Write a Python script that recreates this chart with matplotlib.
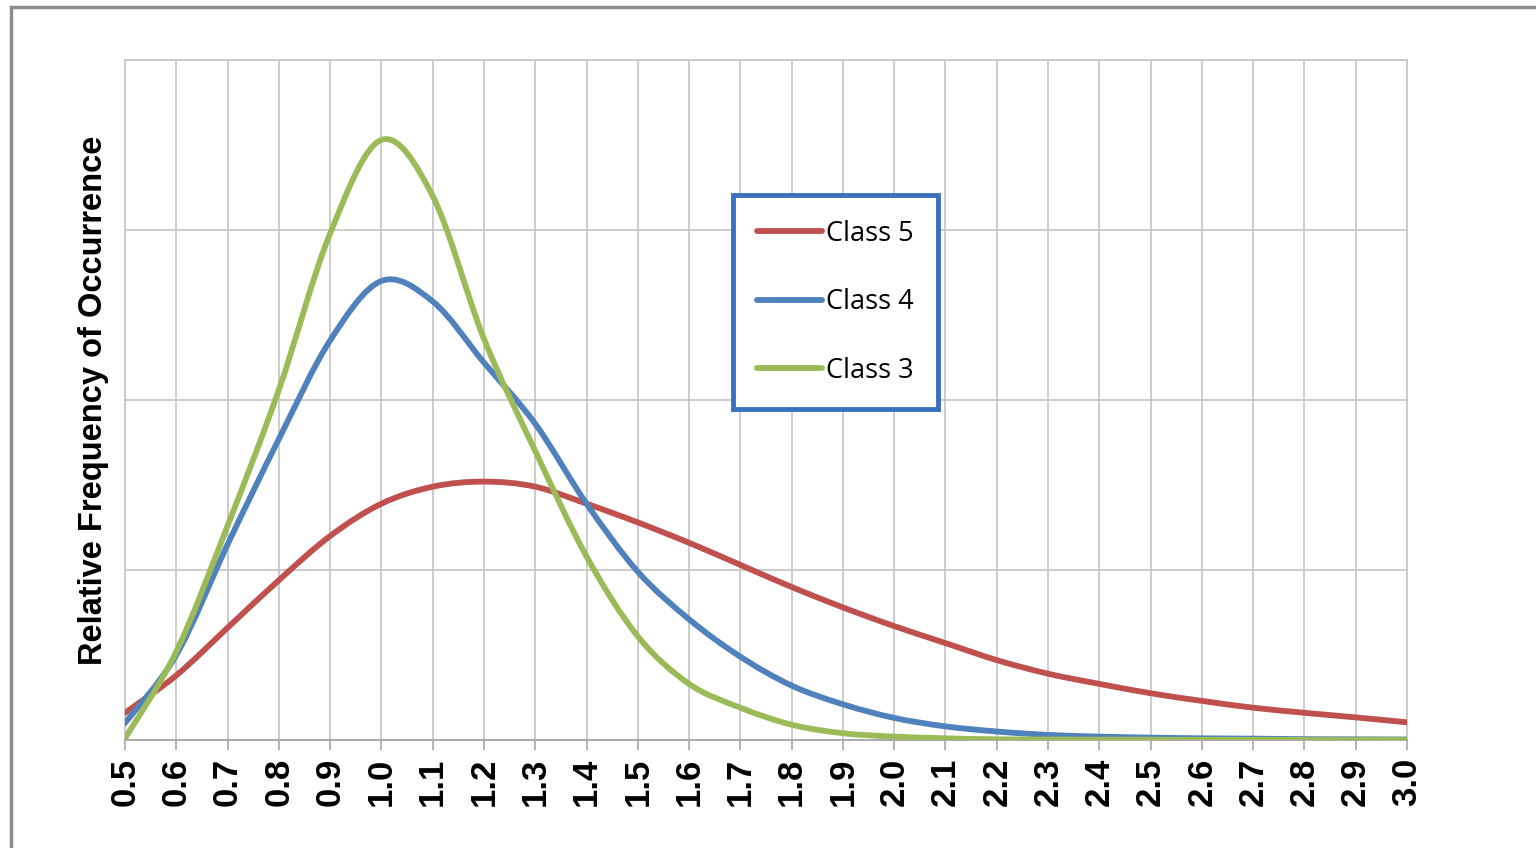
import numpy as np
import matplotlib.pyplot as plt
from matplotlib.path import Path
from matplotlib.patches import PathPatch, Rectangle
from matplotlib.lines import Line2D

# Relative frequency curves (y in grid units, 0..4)
x = np.round(np.arange(0.5, 3.0001, 0.1), 1)

class5 = [0.16, 0.38, 0.66, 0.94, 1.20, 1.39, 1.49, 1.52, 1.49, 1.39,
          1.28, 1.16, 1.03, 0.90, 0.78, 0.67, 0.57, 0.47, 0.39, 0.33,
          0.275, 0.23, 0.19, 0.16, 0.133, 0.104]
class4 = [0.10, 0.50, 1.15, 1.77, 2.35, 2.70, 2.58, 2.22, 1.86, 1.39,
          0.99, 0.71, 0.49, 0.32, 0.21, 0.13, 0.08, 0.05, 0.03, 0.02,
          0.014, 0.01, 0.008, 0.005, 0.004, 0.003]
class3 = [0.01, 0.52, 1.26, 2.06, 2.98, 3.53, 3.20, 2.36, 1.70, 1.08,
          0.61, 0.33, 0.19, 0.09, 0.04, 0.02, 0.01, 0.004, 0.003, 0.002,
          0.002, 0.001, 0.001, 0.001, 0.001, 0.001]

labels = ["Class 5", "Class 4", "Class 3"]
colors = ["#C0504D", "#4F81BD", "#9BBB59"]
xticks = np.round(np.arange(0.5, 3.0001, 0.1), 1)


def smooth_path(xs, ys):
    # Excel-style smoothed line: cubic bezier segments through each point
    p = np.column_stack([xs, ys])
    n = len(p)
    verts = [p[0]]
    codes = [Path.MOVETO]
    for i in range(n - 1):
        p0 = p[max(i - 1, 0)]
        p1 = p[i]
        p2 = p[i + 1]
        p3 = p[min(i + 2, n - 1)]
        c1 = p1 + (p2 - p0) / 6.0
        c2 = p2 - (p3 - p1) / 6.0
        verts += [c1, c2, p2]
        codes += [Path.CURVE4] * 3
    return Path(verts, codes)


fig = plt.figure(figsize=(15.36, 8.48), dpi=100)
ax = fig.add_axes([125 / 1536, 108 / 848, 1282 / 1536, 680 / 848])

for ys, c in zip([class5, class4, class3], colors):
    patch = PathPatch(smooth_path(x, ys), facecolor="none", edgecolor=c,
                      lw=4.2, capstyle="round", joinstyle="round", zorder=3)
    ax.add_patch(patch)

ax.set_xlim(0.5, 3.0)
ax.set_ylim(0, 4)
ax.set_xticks(xticks)
ax.set_xticklabels([f"{v:.1f}" for v in xticks], rotation=90,
                   fontsize=25, fontweight="bold", family="Liberation Sans")
ax.set_yticks([0, 1, 2, 3, 4])
ax.set_yticklabels([])
ax.tick_params(axis="y", length=0)
ax.tick_params(axis="x", length=7, width=1.2, color="#A6A6A6", pad=6)
ax.grid(True, color="#C8C8C8", lw=1.3)
for s in ax.spines.values():
    s.set_color("#C8C8C8")
    s.set_linewidth(1.3)
ax.spines["bottom"].set_color("#A6A6A6")

ax.set_ylabel("Relative Frequency of Occurrence", fontsize=23.5,
              fontweight="bold", family="Liberation Sans", labelpad=8)

handles = [Line2D([], [], color=c, lw=4.2, solid_capstyle="round") for c in colors]
leg = ax.legend(handles, labels, loc="upper left", bbox_to_anchor=(0.474, 0.801),
                borderaxespad=0, fancybox=False, frameon=True, handlelength=2.4,
                handletextpad=0.15, labelspacing=1.5, borderpad=0.9,
                prop={"family": "Open Sans", "size": 19.5})
leg.get_frame().set_edgecolor("#3B70BE")
leg.get_frame().set_linewidth(3.5)
leg.get_frame().set_alpha(1)

# outer chart-area frame
fig.patches.append(Rectangle((11 / 1536, -0.05), 1.2, (848 - 7) / 848 + 0.05,
                             transform=fig.transFigure, fill=False,
                             edgecolor="#8C8C8C", lw=2.5, clip_on=False))

fig.savefig("out.png", dpi=100)
